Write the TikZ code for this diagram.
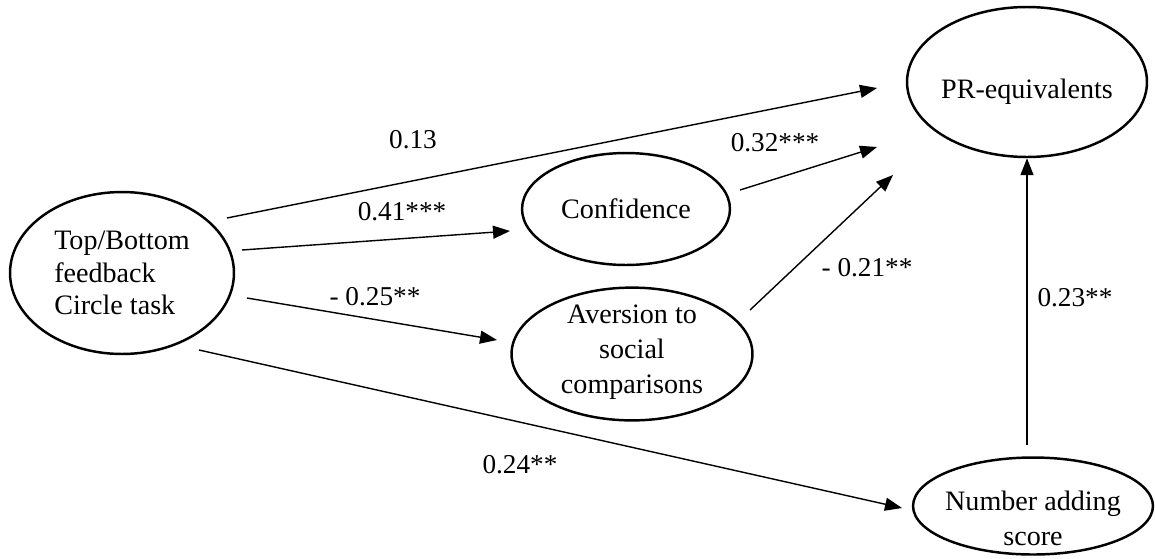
\documentclass[tikz,border=0pt]{standalone}
\usepackage{fontspec}
\setmainfont{Liberation Serif}
\usetikzlibrary{arrows.meta,shapes.geometric,positioning}

\begin{document}
\begin{tikzpicture}[x=0.02cm,y=-0.02cm,
latent/.style={draw,ellipse,line width=1.4pt,inner sep=0pt,align=center,
  font=\fontsize{16}{20}\selectfont},
effect/.style={line width=0.8pt,-{Triangle[length=0.34cm,width=0.26cm]}},
coef/.style={font=\fontsize{15.5}{18}\selectfont}]
\useasboundingbox (0,0) rectangle (1155,558);
%
% latent variables
\node[latent,minimum width=4.48cm,minimum height=3.24cm,align=left,
  font=\fontsize{16}{18.5}\selectfont] (fb) at (122,273) {Top/Bottom\\feedback\\Circle task};
\node[latent,minimum width=4.16cm,minimum height=2.24cm] (conf) at (626,209) {Confidence};
\node[latent,minimum width=4.82cm,minimum height=2.58cm,inner ysep=-0.05cm] (avers) at (632,354)
  {Aversion to\\social\\comparisons\rule[-0.2cm]{0pt}{0.2cm}};
\node[latent,minimum width=4.8cm,minimum height=3cm,inner xsep=-0.06cm] (pr) at (1027,82)
  {\rule{0pt}{0.77cm}PR-equivalents};
\node[latent,minimum width=4.74cm,minimum height=1.94cm,inner xsep=-0.06cm,inner ysep=-0.2cm] (num) at (1033,506)
  {\rule{0pt}{0.9cm}Number adding\\score};
%
% free ends of the paths
\coordinate (s13) at (227,218); \coordinate (t13) at (877,88);
\coordinate (s41) at (242,250); \coordinate (t41) at (510,231);
\coordinate (s25) at (247,298); \coordinate (t25) at (497,340);
\coordinate (s24) at (199,350); \coordinate (t24) at (902,508);
\coordinate (s32) at (740,190); \coordinate (t32) at (877,147);
\coordinate (s21) at (750,310); \coordinate (t21) at (893,175);
\coordinate (s23) at (1027,445);
%
% paths
\foreach \a/\b in {s13/t13,s41/t41,s25/t25,s24/t24,s32/t32,s21/t21}
\draw[effect] (\a)--(\b);
\draw[effect] (s23)--(pr.south);
%
% coefficients
\node[coef] (c13) at (413,140) {0.13};
\node[coef] (c41) at (402,212) {0.41***};
\node[coef] (c25) at (375,297) {- 0.25**};
\node[coef] (c24) at (520,465) {0.24**};
\node[coef] (c32) at (775,143) {0.32***};
\node[coef] (c21) at (867,268) {- 0.21**};
\node[coef] (c23) at (1075,298) {0.23**};
%
\end{tikzpicture}
\end{document}
